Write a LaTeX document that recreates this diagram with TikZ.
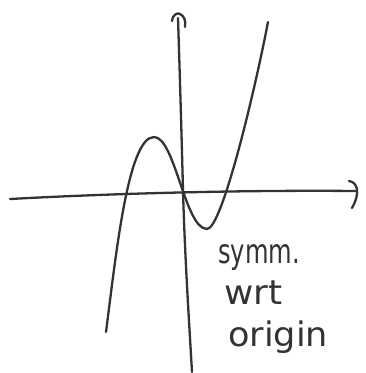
\documentclass[tikz,border=0pt]{standalone}
\usepackage{fontspec}
\newfontfamily\handfont{DejaVu Sans}[Scale=1.0]
\begin{document}
\begin{tikzpicture}[x=1pt,y=-1pt,
  ink/.style={draw=black!80,line width=2.3pt,line cap=round,line join=round},
  note/.style={anchor=base west,inner sep=0pt,text=black!80,yscale=1.3,font=\handfont\fontsize{26}{30}\selectfont}]
\useasboundingbox (0,0) rectangle (365,373);
% x-axis
\draw[ink] (10,199) .. controls (120,193) and (250,190) .. (356,191);
\draw[ink] (349,181) .. controls (357,182) and (361,192) .. (352,208);
% y-axis
\draw[ink] (178,18) .. controls (180,80) and (182,150) .. (183,191) .. controls (185,260) and (189,320) .. (192,372);
\draw[ink] (172,21) .. controls (172,15) and (178,12) .. (180,14) .. controls (184,16) and (186,20) .. (185,27);
% cubic curve
\draw[ink] (106,332) .. controls (116,255) and (128,137) .. (154,137)
  .. controls (175,137) and (185,229) .. (207,229)
  .. controls (222,229) and (255,90) .. (268,22);
% note
\node[note,xscale=0.93] (l1) at (218,263) {symm.};
\node[note,xscale=1.38] (l2) at (224,304) {wrt};
\node[note,xscale=1.35] (l3) at (228,346) {origin};
\end{tikzpicture}
\end{document}
